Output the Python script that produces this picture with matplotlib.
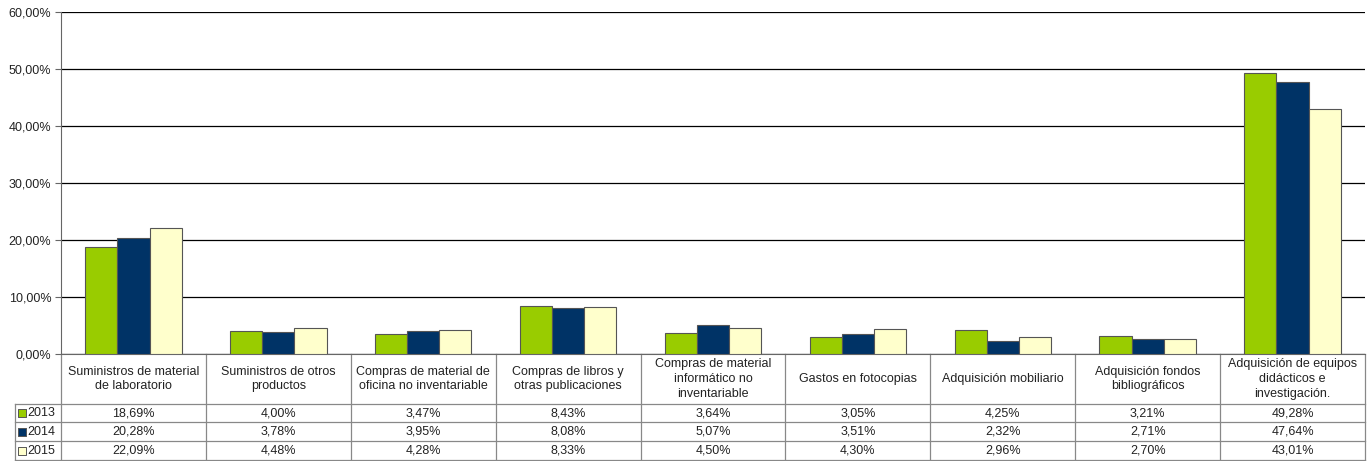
import matplotlib.pyplot as plt
import numpy as np

plt.rcParams['font.family'] = ['Liberation Sans', 'DejaVu Sans']

categories = [
    "Suministros de material\nde laboratorio",
    "Suministros de otros\nproductos",
    "Compras de material de\noficina no inventariable",
    "Compras de libros y\notras publicaciones",
    "Compras de material\ninformático no\ninventariable",
    "Gastos en fotocopias",
    "Adquisición mobiliario",
    "Adquisición fondos\nbibliográficos",
    "Adquisición de equipos\ndidácticos e\ninvestigación.",
]
years = ["2013", "2014", "2015"]
v2013 = [18.69, 4.00, 3.47, 8.43, 3.64, 3.05, 4.25, 3.21, 49.28]
v2014 = [20.28, 3.78, 3.95, 8.08, 5.07, 3.51, 2.32, 2.71, 47.64]
v2015 = [22.09, 4.48, 4.28, 8.33, 4.50, 4.30, 2.96, 2.70, 43.01]
colors = ["#99CC00", "#003366", "#FFFFCC"]

series = [v2013, v2014, v2015]

fig = plt.figure(figsize=(13.72, 4.61), dpi=100)
ax = fig.add_axes([61 / 1372, 107 / 461, 1304 / 1372, 342 / 461])

n = len(categories)
x = np.arange(n)
w = 0.222
for i, (vals, c) in enumerate(zip(series, colors)):
    ax.bar(x + (i - 1) * w, vals, w, color=c, edgecolor="#555555", linewidth=0.8, zorder=3)

ax.set_xlim(-0.5, n - 0.5)
ax.set_ylim(0, 60)
ax.set_yticks(np.arange(0, 61, 10))
ax.set_yticklabels([f"{t:.2f}%".replace(".", ",") for t in np.arange(0, 61, 10)], fontsize=9, color="#222222")
ax.yaxis.grid(True, color="black", linewidth=0.9, zorder=0)
ax.tick_params(axis="y", length=4, color="#666666", pad=3)
ax.set_xticks([])
for s in ["top", "right"]:
    ax.spines[s].set_visible(False)
ax.spines["left"].set_color("#666666")
ax.spines["bottom"].set_color("#666666")

# data table below the plot
line_kw = dict(color="#888888", linewidth=0.9, clip_on=False, transform=ax.transAxes)
y_head = -50 / 342
row_y = [y_head, -68 / 342, -87 / 342, -106 / 342]
x_lab = -46 / 1304
tr = ax.transAxes

for k in range(n + 1):
    xk = k / n
    ax.plot([xk, xk], [0, row_y[-1]], **line_kw)
ax.plot([x_lab, x_lab], [y_head, row_y[-1]], **line_kw)
for yy in row_y:
    ax.plot([x_lab, 1], [yy, yy], **line_kw)

for k, cat in enumerate(categories):
    ax.text((k + 0.5) / n, y_head / 2, cat, transform=tr, ha="center", va="center",
            fontsize=9, color="#222222", linespacing=1.32, clip_on=False)
    for r, vals in enumerate(series):
        ym = (row_y[r] + row_y[r + 1]) / 2
        ax.text((k + 0.5) / n, ym, f"{vals[k]:.2f}%".replace(".", ","), transform=tr,
                ha="center", va="center", fontsize=9, color="#222222", clip_on=False)

for r, (yr, c) in enumerate(zip(years, colors)):
    ym = (row_y[r] + row_y[r + 1]) / 2
    ax.scatter([x_lab + 7 / 1304], [ym], marker="s", s=26, color=c, edgecolor="#555555",
               linewidth=0.7, transform=tr, clip_on=False, zorder=5)
    ax.text(x_lab + 12 / 1304, ym, yr, transform=tr, ha="left", va="center",
            fontsize=9, color="#222222", clip_on=False)

fig.savefig("out.png", dpi=100)
